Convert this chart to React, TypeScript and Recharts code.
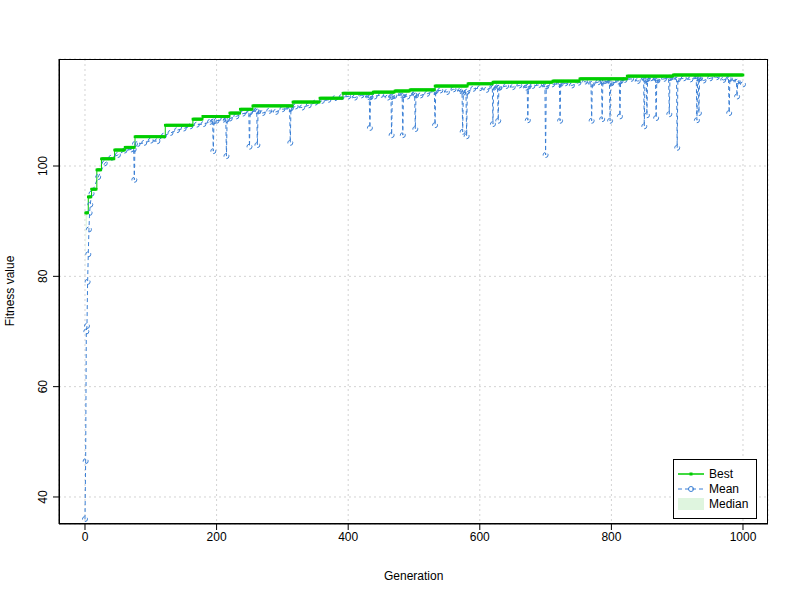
import React from 'react';
import { LineChart, Line, XAxis, YAxis, CartesianGrid, Area, ComposedChart } from 'recharts';

// Best fitness: generation at which it changes, and the new value
const bestSteps: [number, number][] = [
  [1, 91.5], [5, 94.4], [10, 95.8], [18, 99.3], [25, 101.3], [45, 102.9], [61, 103.4],
  [76, 105.3], [122, 107.4], [164, 108.5], [179, 109], [220, 109.6], [236, 110.3],
  [255, 110.9], [316, 111.6], [357, 112.3], [392, 113.2], [438, 113.4], [471, 113.6],
  [494, 113.8], [532, 114.5], [582, 114.9], [620, 115.2], [711, 115.4], [752, 115.8],
  [824, 116.3], [894, 116.5],
];

const earlyMean: [number, number][] = [
  [0, 36], [1, 46.5], [2, 70], [3, 71], [4, 79], [5, 84], [6, 88.5], [7, 91.5], [8, 93],
];

// early median band (visible only in the first generations)
const earlyMedian: [number, number][] = [
  [1, 80], [2, 88], [3, 90], [4, 92], [5, 93.5], [6, 94], [7, 94.2], [8, 94.5],
];

// mean at every 10th generation from 10 to 1000
const meanEvery10 = [
  95, 98, 100.5, 101.5, 102, 102.8, 103, 104, 104.2, 104.6,
  104.5, 105.5, 106, 106.5, 106.8, 107.2, 107.5, 107.6, 108, 108.2,
  108.4, 108.6, 109, 109.5, 109.8, 110, 109.6, 110, 109.8, 110.3,
  110.4, 110.8, 110.6, 111, 111.5, 111.8, 112, 112.3, 112.5, 112.6,
  112.4, 112.8, 112.5, 112.6, 112.9, 112.4, 112.7, 112.9, 112.6, 113,
  112.8, 113.1, 113.5, 113.7, 113.4, 113.9, 113.6, 113.2, 114, 114.1,
  113.8, 114.4, 114.2, 114.5, 114.3, 114.6, 114.2, 114.5, 114.7, 114.3,
  114.8, 114.9, 115, 114.6, 115.1, 115.3, 114.8, 115.2, 115.4, 115,
  115.3, 115.6, 115.8, 115.4, 115.7, 115.9, 115.5, 115.8, 116, 115.6,
  115.9, 115.7, 116, 115.5, 115.9, 116.1, 115.6, 115.8, 115.3, 114.8,
];

// single generations where the mean fell sharply: [gen, before, dip, after]
const meanDips: [number, number, number, number][] = [
  [75, 103, 97.5, 104], [195, 108, 102.7, 108.1], [215, 108.3, 101.8, 108.5],
  [250, 109.6, 103.5, 109.8], [262, 110, 103.8, 109.9], [312, 110.3, 104.2, 110.5],
  [433, 112.4, 106.9, 112.5], [466, 112.5, 105.6, 112.6], [483, 112.8, 105.6, 112.8],
  [502, 112.9, 106.7, 112.8], [532, 113.4, 107.4, 113.6], [574, 113.5, 106.2, 113.3],
  [580, 113.3, 105.4, 113.5], [620, 114.3, 107.6, 114.2], [628, 114.3, 108.2, 114.2],
  [673, 114.3, 108.3, 114.4], [700, 114.4, 102, 114.4], [722, 114.9, 108.2, 114.9],
  [770, 114.9, 108.2, 114.9], [786, 115.3, 108.5, 115.3], [798, 115.1, 108.2, 115.1],
  [813, 115.3, 109, 115.4], [850, 115.7, 107.2, 115.6], [854, 115.7, 109.2, 115.8],
  [868, 115.6, 108.7, 115.6], [888, 115.9, 109.4, 116], [900, 115.7, 103.3, 115.7],
  [930, 115.9, 108.3, 116], [933, 116, 109.6, 115.9], [979, 115.8, 109.6, 115.7],
  [991, 115.4, 112.6, 115.3],
];

const xTicks = [0, 200, 400, 600, 800, 1000];
const yTicks = [40, 60, 80, 100];

const meanMap = new Map<number, number>();
earlyMean.forEach(([g, v]) => meanMap.set(g, v));
meanEvery10.forEach((v, i) => meanMap.set((i + 1) * 10, v));
meanDips.forEach(([g, b, v, a]) => {
  if (!meanMap.has(g - 1)) meanMap.set(g - 1, b);
  meanMap.set(g, v);
  if (!meanMap.has(g + 1)) meanMap.set(g + 1, a);
});
const medMap = new Map<number, number>(earlyMedian);

const data: any[] = [];
for (let g = 0; g <= 1000; g++) {
  let best: number | null = null;
  for (const [sg, v] of bestSteps) if (sg <= g) best = v;
  data.push({
    gen: g,
    best,
    mean: meanMap.has(g) ? meanMap.get(g) : null,
    band: medMap.has(g) && best != null ? [medMap.get(g), best] : null,
  });
}

const font = 'Liberation Sans, Arial, sans-serif';

const BestDot = (p: any) =>
  p.cy == null ? null : <rect key={p.index} x={p.cx - 1.3} y={p.cy - 1.3} width={2.6} height={2.6} fill="#00cd00" />;

const YTick = (p: any) => (
  <text x={p.x - 4} y={p.y} transform={`rotate(-90 ${p.x - 4} ${p.y})`} textAnchor="middle"
    fontSize={12} fontFamily={font} fill="#000">
    {p.payload.value}
  </text>
);

export default function App() {
  return (
    <div style={{ position: 'absolute', left: 0, top: 0, width: 800, height: 600, background: '#fff', fontFamily: font }}>
      <ComposedChart width={800} height={600} data={data}
        margin={{ top: 59, right: 32, bottom: 46, left: 35 }}>
        <CartesianGrid stroke="#d3d3d3" strokeDasharray="2 3" />
        <XAxis dataKey="gen" type="number" domain={[-39.5, 1038]} ticks={xTicks} height={30}
          tick={{ fontSize: 12, fill: '#000', fontFamily: font }} stroke="#000" tickSize={6} />
        <YAxis type="number" domain={[35.1, 119.4]} ticks={yTicks} width={24}
          tick={<YTick />} stroke="#000" tickSize={6} allowDataOverflow />
        <Area dataKey="band" fill="#dff5df" fillOpacity={1} stroke="none" isAnimationActive={false} />
        <Line dataKey="mean" stroke="#3a7fd5" strokeDasharray="4 3" strokeWidth={1} connectNulls
          dot={{ r: 2.5, stroke: '#3a7fd5', fill: 'none', strokeWidth: 1 }} isAnimationActive={false} />
        <Line dataKey="best" type="stepAfter" stroke="#00cd00" strokeWidth={1}
          dot={<BestDot />} isAnimationActive={false} />
      </ComposedChart>
      <div style={{ position: 'absolute', left: 59, top: 59, width: 709, height: 465, border: '1px solid #000', boxSizing: 'border-box', pointerEvents: 'none' }} />
      <div style={{ position: 'absolute', left: 384, top: 569, fontSize: 12 }}>Generation</div>
      <div style={{ position: 'absolute', left: 10, top: 291, fontSize: 12, transform: 'translate(-50%,-50%) rotate(-90deg)', whiteSpace: 'nowrap' }}>
        Fitness value
      </div>
      <div style={{ position: 'absolute', left: 673, top: 459, width: 82, height: 58, border: '1px solid #000', background: '#fff', fontSize: 12 }}>
        <svg width={82} height={58} style={{ position: 'absolute', left: 0, top: 0 }}>
          <line x1={4} x2={30} y1={14} y2={14} stroke="#00cd00" strokeWidth={1.5} />
          <rect x={15.5} y={12.5} width={3} height={3} fill="#00cd00" />
          <line x1={4} x2={30} y1={29} y2={29} stroke="#3a7fd5" strokeDasharray="4 3" />
          <circle cx={17} cy={29} r={2.5} stroke="#3a7fd5" fill="none" />
          <rect x={4} y={38} width={26} height={12} fill="#dff5df" />
        </svg>
        <div style={{ position: 'absolute', left: 35, top: 7 }}>Best</div>
        <div style={{ position: 'absolute', left: 35, top: 22 }}>Mean</div>
        <div style={{ position: 'absolute', left: 35, top: 37 }}>Median</div>
      </div>
    </div>
  );
}
